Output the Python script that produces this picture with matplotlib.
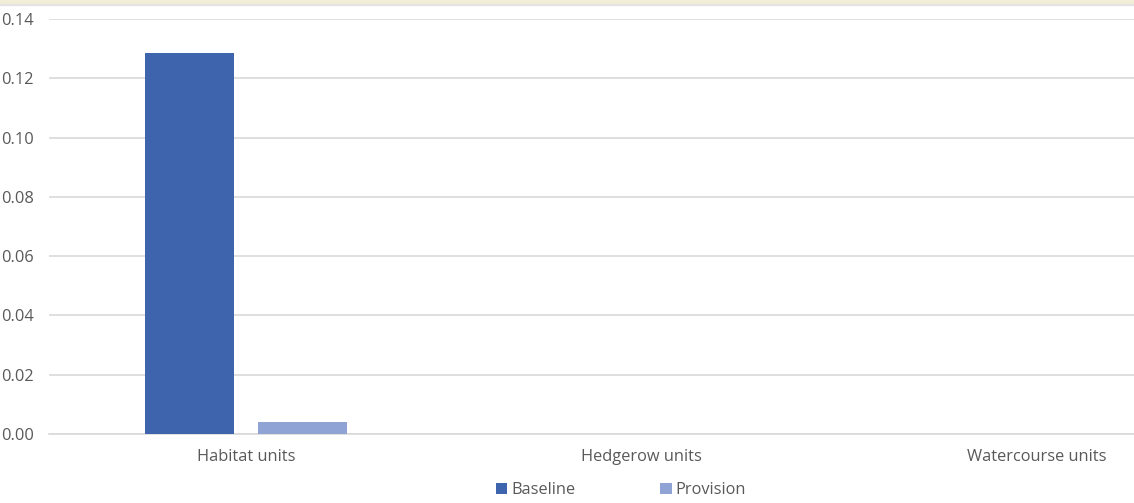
import numpy as np
import matplotlib.pyplot as plt
from matplotlib.patches import Rectangle

categories = ['Habitat units', 'Hedgerow units', 'Watercourse units']
baseline = [0.1285, 0.0, 0.0]
provision = [0.004, 0.0, 0.0]
yticks = [0.00, 0.02, 0.04, 0.06, 0.08, 0.10, 0.12, 0.14]

plt.rcParams['font.family'] = ['Open Sans', 'DejaVu Sans']

W, H = 1134, 503
fig = plt.figure(figsize=(W / 100, H / 100), dpi=100)

# axes reach past the right edge like the cropped original
x0, x1 = 48.5, 1234.5
y0, y1 = 434, 19
ax = fig.add_axes([x0 / W, 1 - y0 / H, (x1 - x0) / W, (y0 - y1) / H])

x = np.arange(len(categories))
w = 0.225
off = 0.143
ax.bar(x - off, baseline, w, color='#3d64ad', label='Baseline', zorder=3)
ax.bar(x + off, provision, w, color='#8fa4d4', label='Provision', zorder=3)

ax.set_xlim(-0.5, 2.5)
ax.set_ylim(0, 0.14)
ax.set_yticks(yticks)
ax.set_yticklabels([f'{v:.2f}' for v in yticks])
ax.set_xticks(x)
ax.set_xticklabels(categories)
ax.tick_params(axis='both', length=0, labelsize=11.8, labelcolor='#595959')
ax.tick_params(axis='y', pad=10.5)
ax.tick_params(axis='x', pad=11)

ax.grid(axis='y', color='#d9d9d9', linewidth=1.2, zorder=0)
for s in ['top', 'right', 'left']:
    ax.spines[s].set_visible(False)
ax.spines['bottom'].set_color('#d9d9d9')
ax.spines['bottom'].set_linewidth(1.2)

leg = fig.legend(loc='center', bbox_to_anchor=(621 / W, 1 - 490 / H), ncol=2,
                 frameon=False, fontsize=11.8, handlelength=0.68, handleheight=0.68,
                 handletextpad=0.25, columnspacing=5.2, labelcolor='#595959')

# thin yellowish strip at the very top
fig.patches.append(Rectangle((0, 1 - 3 / H), 1, 3 / H, transform=fig.transFigure,
                             color='#f1edd6', zorder=0))
fig.patches.append(Rectangle((0, 1 - 5 / H), 1, 1.5 / H, transform=fig.transFigure,
                             color='#e4e4e4', zorder=0))

fig.savefig('out.png', dpi=100)
